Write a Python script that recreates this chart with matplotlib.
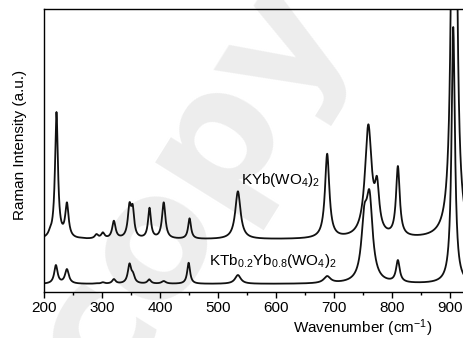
import numpy as np
import matplotlib
matplotlib.use("Agg")
import matplotlib.pyplot as plt

plt.rcParams["font.family"] = ["Liberation Sans", "DejaVu Sans"]
plt.rcParams["mathtext.fontset"] = "custom"
plt.rcParams["mathtext.rm"] = "Liberation Sans"
plt.rcParams["mathtext.it"] = "Liberation Sans:italic"

# Peak tables: centre (cm-1), height (a.u.), half width (cm-1)
kybw_centers = [210, 221, 239, 263, 290, 301, 320, 347, 352.5, 381.5, 406, 450.6,
                534, 688, 759, 774, 810, 907]
kybw_heights = [65, 180, 89.7, 54.5, 58, 59.7, 71.3, 89.7, 87.7, 84.3, 89.7, 73.7,
                100.7, 138.3, 167.7, 115.7, 126, 1000]
kybw_widths = [3.5, 3, 3.5, 3, 3.5, 3.5, 3.5, 3.5, 3, 3, 3.5, 3,
               5.5, 4.5, 7, 4.5, 3.8, 3.4]
kybw_base = 52.5

ktyb_centers = [220, 239, 290, 301, 320, 347, 353, 381, 406, 449,
                534, 688, 752, 761, 810, 905.5]
ktyb_heights = [27, 23, 8.8, 9.8, 13, 28.7, 20, 12.7, 11, 29.3,
                17, 16, 87, 102, 32, 265]
ktyb_widths = [3.5, 4, 3.5, 3.5, 3.5, 3.5, 3.5, 3.5, 4.5, 3,
               6, 7, 6, 6.5, 3.8, 3.5]
ktyb_base = 8

x_ticks = [200, 300, 400, 500, 600, 700, 800, 900]

wn = np.arange(200, 930.01, 0.25)


def lor(x, c, g):
    return g ** 2 / ((x - c) ** 2 + g ** 2)


def spectrum(centers, heights, widths, base):
    c = np.array(centers, float)
    h = np.array(heights, float) - base
    g = np.array(widths, float)
    m = lor(c[:, None], c[None, :], g[None, :])
    amp = np.linalg.solve(m, h)
    return base + (amp[None, :] * lor(wn[:, None], c[None, :], g[None, :])).sum(axis=1)


upper = spectrum(kybw_centers, kybw_heights, kybw_widths, kybw_base)
lower = spectrum(ktyb_centers, ktyb_heights, ktyb_widths, ktyb_base)

fig = plt.figure(figsize=(4.63, 3.38), dpi=100)
ax = fig.add_axes([0.0957, 0.136, 0.9139, 0.8365])

# watermark behind everything
fig.text(0.41, 0.45, "copy", fontsize=122, fontweight="bold", color="#ededed",
         rotation=58, ha="center", va="center", family="DejaVu Sans", zorder=-1)
ax.patch.set_alpha(0)

ax.plot(wn, upper, color="#111111", lw=1.3)
ax.plot(wn, lower, color="#111111", lw=1.3)

ax.text(539.4, 108, "KYb(WO$_4$)$_2$", fontsize=11, va="baseline", ha="left")
ax.text(484, 27, "KTb$_{0.2}$Yb$_{0.8}$(WO$_4$)$_2$", fontsize=11, va="baseline", ha="left")

ax.set_xlim(200, 930)
ax.set_ylim(0, 282.7)
ax.set_xticks(x_ticks)
ax.set_xticks(np.arange(250, 930, 100), minor=True)
ax.set_yticks([])
ax.tick_params(axis="x", which="major", direction="out", length=4.5, width=1,
               labelsize=11, pad=2)
ax.tick_params(axis="x", which="minor", direction="out", length=2.5, width=1)
ax.spines["right"].set_visible(False)
for s in ["left", "bottom", "top"]:
    ax.spines[s].set_linewidth(1)

ax.set_xlabel("Wavenumber (cm$^{-1}$)", fontsize=11)
ax.xaxis.set_label_coords(0.753, -0.09)
ax.set_ylabel("Raman Intensity (a.u.)", fontsize=11)
ax.yaxis.set_label_coords(-0.04, 0.52)

fig.savefig("out.png", dpi=100)
plt.close(fig)
